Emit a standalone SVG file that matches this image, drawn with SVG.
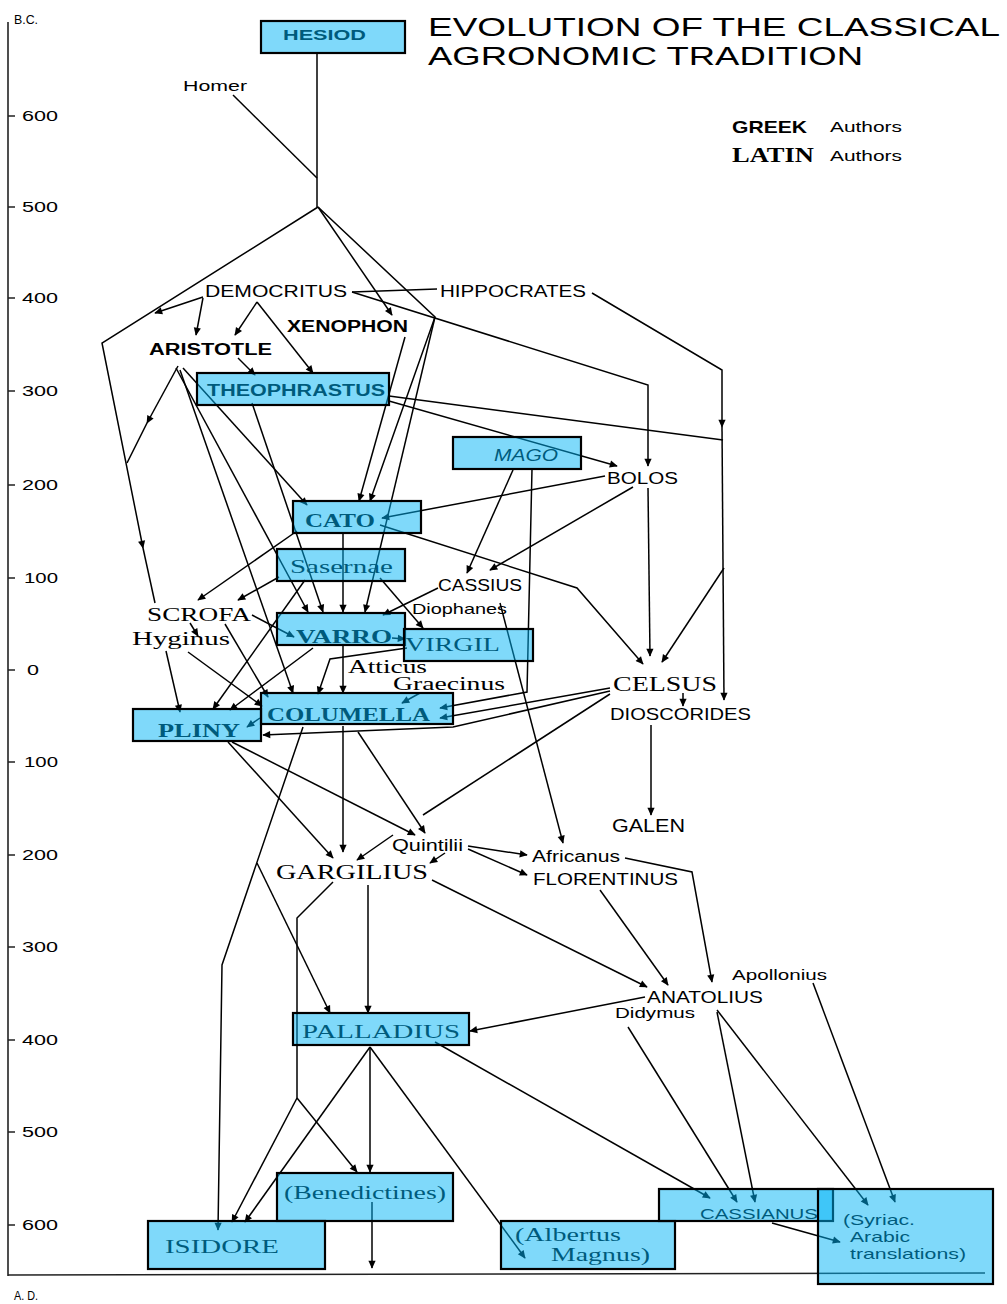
<svg xmlns="http://www.w3.org/2000/svg" width="1007" height="1304" viewBox="0 0 1007 1304">
<style>
.s{font-family:"Liberation Sans",Arial,sans-serif;fill:#000}
.r{font-family:"Liberation Serif","Times New Roman",serif;fill:#000}
.b{font-weight:bold}
.i{font-style:italic}
.box{fill:#00B4F5;fill-opacity:0.5;stroke:#000;stroke-width:2.2}
.ax{stroke:#222;stroke-width:1.6;fill:none}
#connectors path{fill:none;stroke:#000;stroke-width:1.5}
#connectors path.a{marker-end:url(#ah)}
</style>
<defs>
<marker id="ah" viewBox="0 0 10 10" refX="9" refY="5" markerWidth="9" markerHeight="8" markerUnits="userSpaceOnUse" orient="auto"><path d="M0,0.5 L10,5 L0,9.5 z" fill="#000"/></marker>
</defs>
<rect width="1007" height="1304" fill="#fff"/>

<g id="axis">
<path class="ax" d="M8,22 L8,1276"/>
<path class="ax" d="M8,1275 L985,1273" stroke="#555"/>
<path class="ax" d="M8,116h7M8,207h7M8,298h7M8,391h7M8,485h7M8,578h7M8,670h7M8,762h7M8,855h7M8,947h7M8,1040h7M8,1132h7M8,1225h7"/>
<g class="s" font-size="14">
<text x="14" y="24" font-size="12" textLength="24" lengthAdjust="spacingAndGlyphs">B.C.</text>
<text x="22" y="121" textLength="36" lengthAdjust="spacingAndGlyphs">600</text>
<text x="22" y="212" textLength="36" lengthAdjust="spacingAndGlyphs">500</text>
<text x="22" y="303" textLength="36" lengthAdjust="spacingAndGlyphs">400</text>
<text x="22" y="396" textLength="36" lengthAdjust="spacingAndGlyphs">300</text>
<text x="22" y="490" textLength="36" lengthAdjust="spacingAndGlyphs">200</text>
<text x="24" y="583" textLength="34" lengthAdjust="spacingAndGlyphs">100</text>
<text x="27" y="675" textLength="12" lengthAdjust="spacingAndGlyphs">0</text>
<text x="24" y="767" textLength="34" lengthAdjust="spacingAndGlyphs">100</text>
<text x="22" y="860" textLength="36" lengthAdjust="spacingAndGlyphs">200</text>
<text x="22" y="952" textLength="36" lengthAdjust="spacingAndGlyphs">300</text>
<text x="22" y="1045" textLength="36" lengthAdjust="spacingAndGlyphs">400</text>
<text x="22" y="1137" textLength="36" lengthAdjust="spacingAndGlyphs">500</text>
<text x="22" y="1230" textLength="36" lengthAdjust="spacingAndGlyphs">600</text>
<text x="14" y="1300" font-size="12" textLength="24" lengthAdjust="spacingAndGlyphs">A. D.</text>
</g>
</g>

<g id="title" class="s">
<text x="428" y="36" font-size="26" textLength="572" lengthAdjust="spacingAndGlyphs">EVOLUTION OF THE CLASSICAL</text>
<text x="428" y="65" font-size="26" textLength="435" lengthAdjust="spacingAndGlyphs">AGRONOMIC TRADITION</text>
</g>

<g id="legend">
<text class="s b" x="732" y="133" font-size="17" textLength="75" lengthAdjust="spacingAndGlyphs">GREEK</text>
<text class="s" x="830" y="132" font-size="15" textLength="72" lengthAdjust="spacingAndGlyphs">Authors</text>
<text class="r b" x="732" y="162" font-size="20" textLength="82" lengthAdjust="spacingAndGlyphs">LATIN</text>
<text class="s" x="830" y="161" font-size="15" textLength="72" lengthAdjust="spacingAndGlyphs">Authors</text>
</g>

<g id="connectors">
<path d="M317,52 L317,207"/>
<path d="M233,95 L317,178"/>
<path class="a" d="M318,207 L102,343 L143,548"/>
<path d="M143,548 L155,603"/>
<path class="a" d="M318,207 L392,315"/>
<path class="a" d="M318,207 L435,317 L370,501"/>
<path class="a" d="M435,317 L365,612"/>
<path class="a" d="M405,337 L359,501"/>
<path class="a" d="M203,297 L155,313"/>
<path class="a" d="M203,298 L196,335"/>
<path class="a" d="M257,302 L235,335"/>
<path class="a" d="M257,302 L313,373"/>
<path d="M352,292 L437,289"/>
<path class="a" d="M352,292 L648,385 L648,466"/>
<path class="a" d="M592,293 L722,370 L722,427"/>
<path class="a" d="M722,427 L724,700"/>
<path class="a" d="M724,568 L662,662"/>
<path d="M389,396 L723,440"/>
<path class="a" d="M389,401 L617,466"/>
<path class="a" d="M252,403 L323,612"/>
<path class="a" d="M238,358 L255,375"/>
<path class="a" d="M178,366 L147,423"/>
<path d="M147,423 L127,463"/>
<path class="a" d="M183,368 L307,505"/>
<path class="a" d="M176,368 L308,612"/>
<path class="a" d="M180,370 L293,693"/>
<path class="a" d="M605,476 L382,518"/>
<path class="a" d="M633,487 L490,570"/>
<path class="a" d="M648,488 L650,656"/>
<path class="a" d="M513,470 L467,573"/>
<path class="a" d="M532,469 L527,692 L440,708"/>
<path class="a" d="M380,525 L577,588 L643,664"/>
<path class="a" d="M297,531 L198,600"/>
<path class="a" d="M343,533 L343,612"/>
<path class="a" d="M279,577 L238,600"/>
<path class="a" d="M380,578 L423,628"/>
<path class="a" d="M305,580 L213,709"/>
<path class="a" d="M438,588 L383,615"/>
<path class="a" d="M252,615 L294,637"/>
<path class="a" d="M190,623 L198,636"/>
<path class="a" d="M225,624 L268,697"/>
<path class="a" d="M166,651 L180,712"/>
<path class="a" d="M188,652 L262,706"/>
<path class="a" d="M392,638 L405,639"/>
<path class="a" d="M313,648 L230,710"/>
<path class="a" d="M343,646 L343,693"/>
<path class="a" d="M407,648 L330,659 L318,694"/>
<path class="a" d="M420,693 L402,703"/>
<path class="a" d="M260,718 L247,727"/>
<path class="a" d="M610,688 L440,718"/>
<path class="a" d="M610,691 L453,727 L263,735"/>
<path d="M610,694 L423,815"/>
<path class="a" d="M683,693 L683,706"/>
<path class="a" d="M651,725 L651,815"/>
<path class="a" d="M500,603 L563,843"/>
<path class="a" d="M343,726 L343,852"/>
<path class="a" d="M358,732 L425,833"/>
<path class="a" d="M303,727 L222,965 L218,1230"/>
<path class="a" d="M257,863 L330,1013"/>
<path class="a" d="M228,742 L333,858"/>
<path class="a" d="M232,742 L415,835"/>
<path class="a" d="M393,835 L357,860"/>
<path class="a" d="M445,853 L430,863"/>
<path class="a" d="M468,846 L527,855"/>
<path class="a" d="M468,849 L527,875"/>
<path d="M333,882 L297,918 L297,1098"/>
<path class="a" d="M297,1098 L232,1222"/>
<path class="a" d="M297,1098 L357,1172"/>
<path class="a" d="M368,885 L368,1013"/>
<path class="a" d="M432,880 L647,987"/>
<path class="a" d="M600,890 L668,985"/>
<path class="a" d="M625,858 L692,872 L712,982"/>
<path class="a" d="M645,997 L470,1031"/>
<path class="a" d="M717,1012 L755,1202"/>
<path class="a" d="M717,1010 L868,1205"/>
<path class="a" d="M628,1027 L737,1202"/>
<path class="a" d="M813,983 L895,1202"/>
<path class="a" d="M435,1042 L710,1198"/>
<path class="a" d="M370,1047 L525,1258"/>
<path class="a" d="M370,1047 L245,1222"/>
<path class="a" d="M370,1047 L370,1172"/>
<path class="a" d="M372,1202 L372,1268"/>
<path class="a" d="M772,1223 L840,1242"/>
</g>

<g id="homer"><text class="s" x="183" y="91" font-size="14" textLength="64" lengthAdjust="spacingAndGlyphs">Homer</text></g>
<g id="democritus"><text class="s" x="205" y="297" font-size="16" textLength="142" lengthAdjust="spacingAndGlyphs">DEMOCRITUS</text></g>
<g id="hippocrates"><text class="s" x="440" y="297" font-size="16" textLength="146" lengthAdjust="spacingAndGlyphs">HIPPOCRATES</text></g>
<g id="xenophon"><text class="s b" x="287" y="332" font-size="16" textLength="121" lengthAdjust="spacingAndGlyphs">XENOPHON</text></g>
<g id="aristotle"><text class="s b" x="149" y="355" font-size="16" textLength="123" lengthAdjust="spacingAndGlyphs">ARISTOTLE</text></g>
<g id="bolos"><text class="s" x="607" y="484" font-size="16" textLength="71" lengthAdjust="spacingAndGlyphs">BOLOS</text></g>
<g id="cassius"><text class="s" x="438" y="591" font-size="16" textLength="84" lengthAdjust="spacingAndGlyphs">CASSIUS</text></g>
<g id="diophanes"><text class="s" x="412" y="614" font-size="15" textLength="95" lengthAdjust="spacingAndGlyphs">Diophanes</text></g>
<g id="scrofa"><text class="r" x="147" y="621" font-size="19" textLength="104" lengthAdjust="spacingAndGlyphs">SCROFA</text></g>
<g id="hyginus"><text class="r" x="132" y="645" font-size="19" textLength="98" lengthAdjust="spacingAndGlyphs">Hyginus</text></g>
<g id="atticus"><text class="r" x="348" y="673" font-size="19" textLength="79" lengthAdjust="spacingAndGlyphs">Atticus</text></g>
<g id="graecinus"><text class="r" x="393" y="690" font-size="19" textLength="112" lengthAdjust="spacingAndGlyphs">Graecinus</text></g>
<g id="celsus"><text class="r" x="613" y="691" font-size="20" textLength="104" lengthAdjust="spacingAndGlyphs">CELSUS</text></g>
<g id="dioscorides"><text class="s" x="610" y="720" font-size="17" textLength="141" lengthAdjust="spacingAndGlyphs">DIOSCORIDES</text></g>
<g id="galen"><text class="s" x="612" y="832" font-size="18" textLength="73" lengthAdjust="spacingAndGlyphs">GALEN</text></g>
<g id="quintilii"><text class="s" x="392" y="851" font-size="16" textLength="71" lengthAdjust="spacingAndGlyphs">Quintilii</text></g>
<g id="africanus"><text class="s" x="532" y="862" font-size="16" textLength="88" lengthAdjust="spacingAndGlyphs">Africanus</text></g>
<g id="gargilius"><text class="r" x="276" y="879" font-size="20" textLength="152" lengthAdjust="spacingAndGlyphs">GARGILIUS</text></g>
<g id="florentinus"><text class="s" x="533" y="885" font-size="17" textLength="145" lengthAdjust="spacingAndGlyphs">FLORENTINUS</text></g>
<g id="apollonius"><text class="s" x="732" y="980" font-size="15" textLength="95" lengthAdjust="spacingAndGlyphs">Apollonius</text></g>
<g id="anatolius"><text class="s" x="647" y="1003" font-size="17" textLength="116" lengthAdjust="spacingAndGlyphs">ANATOLIUS</text></g>
<g id="didymus"><text class="s" x="615" y="1018" font-size="15" textLength="80" lengthAdjust="spacingAndGlyphs">Didymus</text></g>

<g id="hesiod"><text class="s b" x="283" y="40" font-size="15" textLength="83" lengthAdjust="spacingAndGlyphs">HESIOD</text><rect class="box" x="261" y="21" width="144" height="32"/></g>
<g id="theophrastus"><text class="s b" x="207" y="396" font-size="16" textLength="178" lengthAdjust="spacingAndGlyphs">THEOPHRASTUS</text><rect class="box" x="197" y="373" width="192" height="32"/></g>
<g id="mago"><text class="s i" x="494" y="461" font-size="17" textLength="64" lengthAdjust="spacingAndGlyphs">MAGO</text><rect class="box" x="453" y="437" width="128" height="32"/></g>
<g id="cato"><text class="r b" x="305" y="527" font-size="19" textLength="70" lengthAdjust="spacingAndGlyphs">CATO</text><rect class="box" x="293" y="501" width="128" height="32"/></g>
<g id="sasernae"><text class="r" x="290" y="573" font-size="19" textLength="103" lengthAdjust="spacingAndGlyphs">Sasernae</text><rect class="box" x="277" y="549" width="128" height="32"/></g>
<g id="varro"><text class="r b" x="296" y="643" font-size="19" textLength="96" lengthAdjust="spacingAndGlyphs">VARRO</text><rect class="box" x="277" y="613" width="128" height="32"/></g>
<g id="virgil"><text class="r" x="405" y="651" font-size="19" textLength="95" lengthAdjust="spacingAndGlyphs">VIRGIL</text><rect class="box" x="404" y="629" width="129" height="32"/></g>
<g id="columella"><text class="r b" x="267" y="721" font-size="19" textLength="163" lengthAdjust="spacingAndGlyphs">COLUMELLA</text><rect class="box" x="261" y="693" width="192" height="31"/></g>
<g id="pliny"><text class="r b" x="158" y="737" font-size="19" textLength="82" lengthAdjust="spacingAndGlyphs">PLINY</text><rect class="box" x="133" y="709" width="128" height="32"/></g>
<g id="palladius"><text class="r" x="302" y="1038" font-size="19" textLength="158" lengthAdjust="spacingAndGlyphs">PALLADIUS</text><rect class="box" x="293" y="1013" width="176" height="32"/></g>
<g id="benedictines"><text class="r" x="284" y="1199" font-size="18" textLength="162" lengthAdjust="spacingAndGlyphs">(Benedictines)</text><rect class="box" x="277" y="1173" width="176" height="48"/></g>
<g id="isidore"><text class="r" x="165" y="1253" font-size="19" textLength="114" lengthAdjust="spacingAndGlyphs">ISIDORE</text><rect class="box" x="148" y="1221" width="177" height="48"/></g>
<g id="albertus"><text class="r" x="515" y="1241" font-size="18" textLength="106" lengthAdjust="spacingAndGlyphs">(Albertus</text><text class="r" x="551" y="1261" font-size="18" textLength="99" lengthAdjust="spacingAndGlyphs">Magnus)</text><rect class="box" x="501" y="1221" width="174" height="48"/></g>
<g id="cassianus"><text class="s" x="700" y="1219" font-size="15" textLength="118" lengthAdjust="spacingAndGlyphs">CASSIANUS</text><rect class="box" x="659" y="1189" width="174" height="32"/></g>
<g id="syriac"><text class="s" x="843" y="1225" font-size="15" textLength="72" lengthAdjust="spacingAndGlyphs">(Syriac.</text><text class="s" x="850" y="1242" font-size="15" textLength="60" lengthAdjust="spacingAndGlyphs">Arabic</text><text class="s" x="850" y="1259" font-size="15" textLength="116" lengthAdjust="spacingAndGlyphs">translations)</text><rect class="box" x="818" y="1189" width="175" height="95"/></g>
</svg>
